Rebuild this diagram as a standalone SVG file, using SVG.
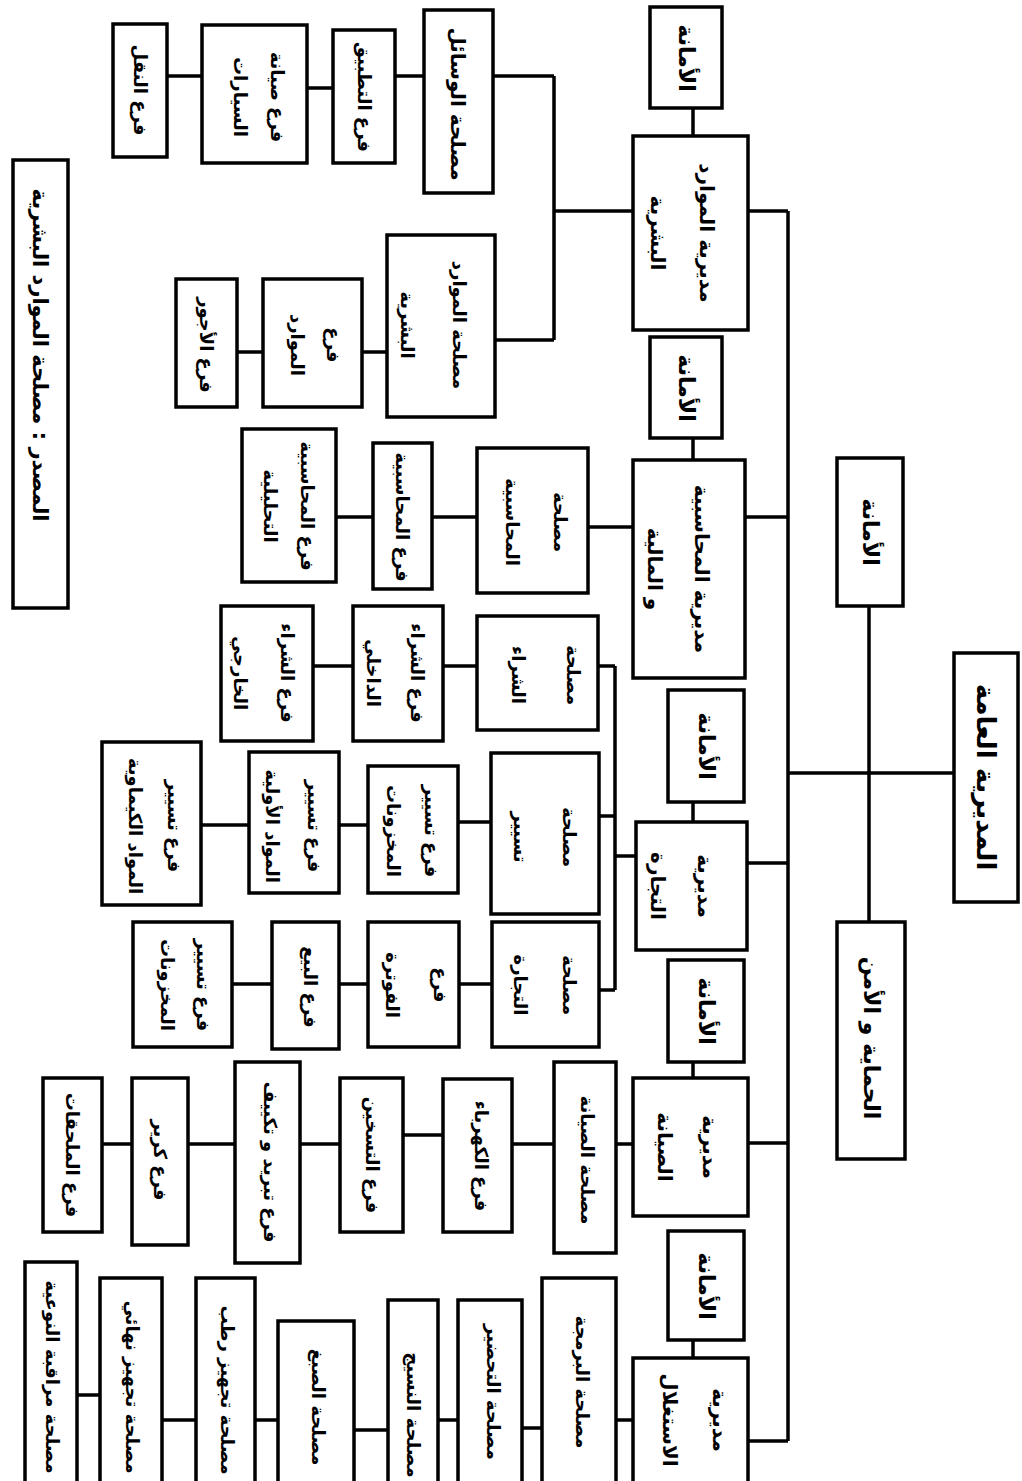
<svg xmlns="http://www.w3.org/2000/svg" width="1022" height="1481" viewBox="0 0 1022 1481">
<style>
.b{fill:#fff;stroke:#000;stroke-width:3.5}
.t{font-family:"DejaVu Sans","Noto Naskh Arabic",sans-serif;font-weight:bold;font-size:18px;text-anchor:middle;dominant-baseline:central;fill:#000}
.l{font-size:20px}
.s{font-size:22px}
.r{font-size:26px}
.src{font-size:21px}
#connectors path{fill:none;stroke:#000;stroke-width:3.5}
</style>
<rect width="1022" height="1481" fill="#fff"/>
<g id="connectors">
<path d="M954 773H788M869 606V922M788 211V1441M748 211H788M743 517H788M747 863H788M748 1143H788M748 1441H788"/>
<path d="M693 108V136M693 438V460M693 802V822M693 1062V1078M693 1340V1358"/>
<path d="M633 211H554M554 76V340M493 76H554M495 340H554M424 76H395M333 88H307M202 76H167M387 352H362M263 352H237"/>
<path d="M633 527H588M477 517H432M373 517H336"/>
<path d="M636 856H615M615 666V990M598 666H615M599 816H615M599 990H615M477 666H443M353 666H313M491 822H458M368 825H339M249 825H201M492 984H459M368 984H339M272 984H232"/>
<path d="M633 1144H616M554 1144H512M443 1135H403M340 1144H300M235 1144H188M132 1144H102"/>
<path d="M633 1420H616M542 1428H522M458 1420H438M388 1430H354M278 1420H255M196 1420H162M100 1395H77"/>
</g>
<g id="root"><rect class="b" x="954" y="653" width="64" height="249"/><text class="t r" transform="translate(986,777) rotate(90)">المديرية العامة</text></g>
<g id="secretariat-root"><rect class="b" x="837" y="458" width="66" height="148"/><text class="t s" transform="translate(870,532) rotate(90)">الأمانة</text></g>
<g id="security"><rect class="b" x="837" y="922" width="68" height="237"/><text class="t s" transform="translate(871,1038) rotate(90)">الحماية و الأمن</text></g>

<g id="sec1"><rect class="b" x="650" y="7" width="72" height="101"/><text class="t s" transform="translate(686,58) rotate(90)">الأمانة</text></g>
<g id="dir-hr"><rect class="b" x="633" y="136" width="115" height="194"/><text class="t l" transform="translate(707,233) rotate(90)">مديرية الموارد</text><text class="t l" transform="translate(658,233) rotate(90)">البشرية</text></g>
<g id="sec2"><rect class="b" x="650" y="337" width="72" height="101"/><text class="t s" transform="translate(686,388) rotate(90)">الأمانة</text></g>
<g id="dir-fin"><rect class="b" x="633" y="460" width="112" height="218"/><text class="t l" transform="translate(702,569) rotate(90)">مديرية المحاسبية</text><text class="t l" transform="translate(655,569) rotate(90)">و المالية</text></g>
<g id="sec3"><rect class="b" x="668" y="690" width="76" height="112"/><text class="t s" transform="translate(706,746) rotate(90)">الأمانة</text></g>
<g id="dir-trade"><rect class="b" x="636" y="822" width="111" height="128"/><text class="t l" transform="translate(705,886) rotate(90)">مديرية</text><text class="t l" transform="translate(658,886) rotate(90)">التجارة</text></g>
<g id="sec4"><rect class="b" x="668" y="960" width="76" height="102"/><text class="t s" transform="translate(706,1011) rotate(90)">الأمانة</text></g>
<g id="dir-maint"><rect class="b" x="633" y="1078" width="115" height="138"/><text class="t l" transform="translate(710,1147) rotate(90)">مديرية</text><text class="t l" transform="translate(665,1147) rotate(90)">الصيانة</text></g>
<g id="sec5"><rect class="b" x="668" y="1231" width="76" height="109"/><text class="t s" transform="translate(706,1286) rotate(90)">الأمانة</text></g>
<g id="dir-exploit"><rect class="b" x="633" y="1358" width="115" height="140"/><text class="t l" transform="translate(720,1420) rotate(90)">مديرية</text><text class="t l" transform="translate(670,1420) rotate(90)">الاستغلال</text></g>

<g id="svc-means"><rect class="b" x="424" y="10" width="69" height="183"/><text class="t l" transform="translate(458,104) rotate(90)">مصلحة الوسائل</text></g>
<g id="br-application"><rect class="b" x="333" y="30" width="62" height="133"/><text class="t" transform="translate(364,97) rotate(90)">فرع التطبيق</text></g>
<g id="br-carmaint"><rect class="b" x="202" y="25" width="105" height="138"/><text class="t" transform="translate(277,97) rotate(90)">فرع صيانة</text><text class="t" transform="translate(240,97) rotate(90)">السيارات</text></g>
<g id="br-transport"><rect class="b" x="113" y="24" width="54" height="133"/><text class="t" transform="translate(140,90) rotate(90)">فرع النقل</text></g>
<g id="svc-hr"><rect class="b" x="387" y="235" width="108" height="182"/><text class="t" transform="translate(459,325) rotate(90)">مصلحة الموارد</text><text class="t" transform="translate(407,325) rotate(90)">البشرية</text></g>
<g id="br-resources"><rect class="b" x="263" y="279" width="99" height="128"/><text class="t" transform="translate(333,345) rotate(90)">فرع</text><text class="t" transform="translate(297,345) rotate(90)">الموارد</text></g>
<g id="br-wages"><rect class="b" x="176" y="279" width="61" height="128"/><text class="t" transform="translate(206,345) rotate(90)">فرع الأجور</text></g>

<g id="svc-accounting"><rect class="b" x="477" y="448" width="111" height="145"/><text class="t" transform="translate(560,522) rotate(90)">مصلحة</text><text class="t" transform="translate(512,522) rotate(90)">المحاسبية</text></g>
<g id="br-accounting"><rect class="b" x="373" y="443" width="59" height="146"/><text class="t" transform="translate(402,517) rotate(90)">فرع المحاسبية</text></g>
<g id="br-analytic"><rect class="b" x="242" y="429" width="94" height="153"/><text class="t" transform="translate(307,506) rotate(90)">فرع المحاسبية</text><text class="t" transform="translate(270,506) rotate(90)">التحليلية</text></g>

<g id="svc-purchase"><rect class="b" x="477" y="616" width="121" height="114"/><text class="t" transform="translate(573,675) rotate(90)">مصلحة</text><text class="t" transform="translate(518,675) rotate(90)">الشراء</text></g>
<g id="br-purch-int"><rect class="b" x="353" y="606" width="90" height="135"/><text class="t" transform="translate(417,673) rotate(90)">فرع الشراء</text><text class="t" transform="translate(373,673) rotate(90)">الداخلي</text></g>
<g id="br-purch-ext"><rect class="b" x="221" y="606" width="92" height="135"/><text class="t" transform="translate(287,673) rotate(90)">فرع الشراء</text><text class="t" transform="translate(240,673) rotate(90)">الخارجي</text></g>
<g id="svc-management"><rect class="b" x="491" y="753" width="108" height="161"/><text class="t" transform="translate(569,837) rotate(90)">مصلحة</text><text class="t" transform="translate(520,837) rotate(90)">تسيير</text></g>
<g id="br-stock1"><rect class="b" x="368" y="766" width="90" height="127"/><text class="t" transform="translate(431,831) rotate(90)">فرع تسيير</text><text class="t" transform="translate(393,831) rotate(90)">المخزونات</text></g>
<g id="br-raw"><rect class="b" x="249" y="752" width="90" height="141"/><text class="t" transform="translate(314,826) rotate(90)">فرع تسيير</text><text class="t" transform="translate(272,826) rotate(90)">المواد الأولية</text></g>
<g id="br-chem"><rect class="b" x="102" y="742" width="99" height="163"/><text class="t" transform="translate(174,826) rotate(90)">فرع تسيير</text><text class="t" transform="translate(135,826) rotate(90)">المواد الكيماوية</text></g>
<g id="svc-trade"><rect class="b" x="492" y="922" width="107" height="125"/><text class="t" transform="translate(569,985) rotate(90)">مصلحة</text><text class="t" transform="translate(520,985) rotate(90)">التجارة</text></g>
<g id="br-billing"><rect class="b" x="368" y="922" width="91" height="125"/><text class="t" transform="translate(440,985) rotate(90)">فرع</text><text class="t" transform="translate(392,985) rotate(90)">الفوترة</text></g>
<g id="br-sales"><rect class="b" x="272" y="922" width="67" height="127"/><text class="t" transform="translate(310,987) rotate(90)">فرع البيع</text></g>
<g id="br-stock2"><rect class="b" x="133" y="922" width="99" height="125"/><text class="t" transform="translate(203,985) rotate(90)">فرع تسيير</text><text class="t" transform="translate(167,985) rotate(90)">المخزونات</text></g>

<g id="svc-maint"><rect class="b" x="554" y="1062" width="62" height="191"/><text class="t" transform="translate(587,1160) rotate(90)">مصلحة الصيانة</text></g>
<g id="br-elec"><rect class="b" x="443" y="1079" width="69" height="153"/><text class="t" transform="translate(481,1156) rotate(90)">فرع الكهرباء</text></g>
<g id="br-heat"><rect class="b" x="340" y="1078" width="63" height="154"/><text class="t" transform="translate(372,1155) rotate(90)">فرع التسخين</text></g>
<g id="br-cool"><rect class="b" x="235" y="1062" width="65" height="201"/><text class="t" transform="translate(270,1162) rotate(90)">فرع تبريد و تكييف</text></g>
<g id="br-krir"><rect class="b" x="132" y="1078" width="56" height="167"/><text class="t" transform="translate(160,1160) rotate(90)">فرع كرير</text></g>
<g id="br-annex"><rect class="b" x="43" y="1078" width="59" height="154"/><text class="t" transform="translate(72,1155) rotate(90)">فرع الملحقات</text></g>

<g id="svc-planning"><rect class="b" x="542" y="1278" width="74" height="230"/><text class="t" transform="translate(582,1382) rotate(90)">مصلحة البرمجة</text></g>
<g id="svc-prep"><rect class="b" x="458" y="1300" width="64" height="210"/><text class="t" transform="translate(493,1392) rotate(90)">مصلحة التحضير</text></g>
<g id="svc-weave"><rect class="b" x="388" y="1300" width="50" height="210"/><text class="t" transform="translate(413,1415) rotate(90)">مصلحة النسيج</text></g>
<g id="svc-dye"><rect class="b" x="278" y="1321" width="76" height="190"/><text class="t" transform="translate(318,1407) rotate(90)">مصلحة الصبغ</text></g>
<g id="svc-wet"><rect class="b" x="196" y="1278" width="59" height="230"/><text class="t" transform="translate(227,1390) rotate(90)">مصلحة تجهيز رطب</text></g>
<g id="svc-final"><rect class="b" x="100" y="1278" width="62" height="230"/><text class="t" transform="translate(132,1387) rotate(90)">مصلحة تجهيز نهائي</text></g>
<g id="svc-quality"><rect class="b" x="25" y="1262" width="52" height="246"/><text class="t" transform="translate(52,1377) rotate(90)">مصلحة مراقبة النوعية</text></g>

<g id="source"><rect class="b" x="13" y="160" width="55" height="448"/><text class="t src" transform="translate(40,355) rotate(90)">المصدر : مصلحة الموارد البشرية</text></g>
</svg>
